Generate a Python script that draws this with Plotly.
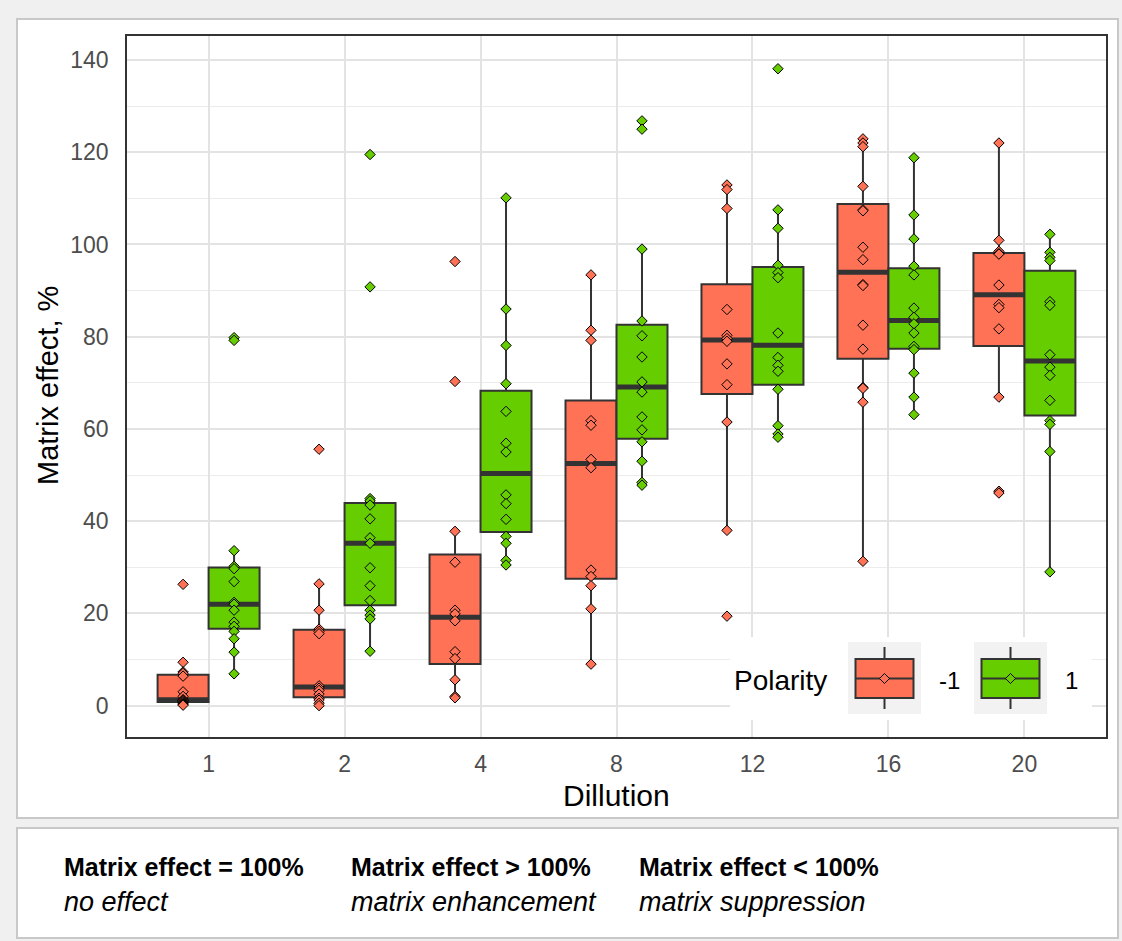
import numpy as np
import plotly.graph_objects as go

# Dilution levels (category labels on the x axis)
dilution = ["1", "2", "4", "8", "12", "16", "20"]

# Matrix effect, % for polarity -1
neg_d1 = [26.3, 9.4, 7.3, 7.0, 6.4, 3.0, 2.0, 1.3, 1.2, 1.1, 0.9, 0.7, 0.5, 0.3, 0.1]
neg_d2 = [55.6, 26.4, 20.7, 16.6, 16.1, 15.6, 4.3, 3.8, 3.3, 2.5, 1.6, 1.2, 0.5, 0.0]
neg_d4 = [96.3, 70.3, 37.8, 31.1, 20.7, 19.9, 18.4, 11.7, 10.2, 5.6, 2.0, 1.7]
neg_d8 = [93.4, 81.4, 79.2, 61.8, 60.8, 53.4, 51.6, 29.4, 28.0, 26.0, 21.0, 9.0]
neg_d12 = [112.9, 111.9, 107.8, 85.9, 80.3, 79.6, 79.0, 74.1, 69.6, 61.5, 38.0, 19.4]
neg_d16 = [122.9, 122.0, 121.2, 112.6, 107.5, 107.3, 99.4, 96.7, 91.3, 91.1, 82.5, 77.3,
           69.0, 68.8, 65.8, 31.3]
neg_d20 = [122.0, 100.9, 98.5, 98.0, 97.9, 91.2, 87.0, 86.3, 81.7, 66.9, 46.5, 46.1]

# Matrix effect, % for polarity 1
pos_d1 = [79.8, 79.2, 33.6, 30.2, 29.7, 26.9, 22.4, 22.0, 20.7, 18.1, 17.2, 16.1, 14.5, 11.6, 6.9]
pos_d2 = [119.5, 90.8, 44.9, 44.4, 43.5, 40.5, 36.4, 35.2, 29.9, 26.0, 22.8, 20.7, 19.6, 18.8, 11.8]
pos_d4 = [110.1, 86.0, 78.1, 69.8, 63.8, 56.9, 55.0, 45.7, 43.8, 40.4, 36.7, 35.2, 31.5, 30.5]
pos_d8 = [126.8, 125.0, 99.0, 83.4, 80.2, 75.6, 70.2, 68.0, 62.6, 59.8, 57.2, 53.0, 48.4, 47.8]
pos_d12 = [138.1, 107.5, 103.5, 95.5, 93.9, 92.8, 80.8, 75.5, 73.8, 72.5, 68.6, 60.7, 58.9, 58.2]
pos_d16 = [118.8, 106.4, 101.2, 95.3, 93.4, 86.2, 84.2, 82.8, 80.8, 77.9, 77.2, 72.1, 66.9, 63.1]
pos_d20 = [102.2, 98.3, 97.2, 96.5, 87.6, 86.8, 76.1, 73.4, 71.6, 66.2, 61.8, 61.0, 55.1, 29.0]

neg_groups = [neg_d1, neg_d2, neg_d4, neg_d8, neg_d12, neg_d16, neg_d20]
pos_groups = [pos_d1, pos_d2, pos_d4, pos_d8, pos_d12, pos_d16, pos_d20]

polarities = [
    ("-1", neg_groups, "#FF7256", -0.1875),
    ("1", pos_groups, "#66CD00", 0.1875),
]

BOX_W = 0.375
EDGE = "#333333"

W, H = 1122, 941
L, R, T, B = 127, 16, 36, 204
PW, PH = W - L - R, H - T - B


def px(x):
    return (x - L) / PW


def py(y):
    return (H - B - y) / PH


def tukey(values):
    v = np.sort(np.asarray(values, dtype=float))
    q1, med, q3 = np.percentile(v, [25, 50, 75])
    iqr = q3 - q1
    lo = v[v >= q1 - 1.5 * iqr].min()
    hi = v[v <= q3 + 1.5 * iqr].max()
    return q1, med, q3, lo, hi


fig = go.Figure()

point_traces = []
median_traces = []
for name, groups, color, offset in polarities:
    xs, q1s, meds, q3s, los, his = [], [], [], [], [], []
    mx, my, px_, py_ = [], [], [], []
    for i, vals in enumerate(groups):
        pos = i + 1 + offset
        q1, med, q3, lo, hi = tukey(vals)
        xs.append(pos)
        q1s.append(q1); meds.append(med); q3s.append(q3); los.append(lo); his.append(hi)
        mx += [pos - BOX_W / 2, pos + BOX_W / 2, None]
        my += [med, med, None]
        px_ += [pos] * len(vals)
        py_ += list(vals)
    fig.add_trace(go.Box(
        x=xs, q1=q1s, median=meds, q3=q3s, lowerfence=los, upperfence=his,
        width=BOX_W, fillcolor=color, line=dict(color=EDGE, width=2),
        whiskerwidth=0, boxpoints=False, name=name, showlegend=False,
        hoverinfo="skip",
    ))
    median_traces.append(go.Scatter(
        x=mx, y=my, mode="lines", line=dict(color=EDGE, width=5),
        showlegend=False, hoverinfo="skip",
    ))
    point_traces.append(go.Scatter(
        x=px_, y=py_, mode="markers", name=name, showlegend=False,
        marker=dict(symbol="diamond", size=8, color=color,
                    line=dict(color="black", width=1)),
    ))

for tr in median_traces + point_traces:
    fig.add_trace(tr)

shapes = []
# background panels
shapes.append(dict(type="rect", xref="paper", yref="paper", layer="below",
                   x0=px(17), x1=px(1118), y0=py(19), y1=py(818),
                   fillcolor="white", line=dict(color="#C8C8C8", width=2)))
shapes.append(dict(type="rect", xref="paper", yref="paper", layer="below",
                   x0=px(17), x1=px(1118), y0=py(828), y1=py(938),
                   fillcolor="white", line=dict(color="#C8C8C8", width=2)))

# legend block drawn inside the panel
shapes.append(dict(type="rect", xref="paper", yref="paper", layer="above",
                   x0=px(730), x1=px(1092), y0=py(637), y1=py(720),
                   fillcolor="white", line=dict(width=0)))
annotations = []
for k, (name, _, color, _) in enumerate(polarities):
    dx = 126 * k
    kx0, kx1 = 848 + dx, 921 + dx
    cx = (kx0 + kx1) / 2
    shapes.append(dict(type="rect", xref="paper", yref="paper", layer="above",
                       x0=px(kx0), x1=px(kx1), y0=py(642), y1=py(714),
                       fillcolor="#F2F2F2", line=dict(width=0)))
    shapes.append(dict(type="line", xref="paper", yref="paper", layer="above",
                       x0=px(cx), x1=px(cx), y0=py(647), y1=py(709),
                       line=dict(color=EDGE, width=2)))
    shapes.append(dict(type="rect", xref="paper", yref="paper", layer="above",
                       x0=px(cx - 29), x1=px(cx + 29), y0=py(659), y1=py(698),
                       fillcolor=color, line=dict(color=EDGE, width=2)))
    shapes.append(dict(type="line", xref="paper", yref="paper", layer="above",
                       x0=px(cx - 29), x1=px(cx + 29), y0=py(678.5), y1=py(678.5),
                       line=dict(color=EDGE, width=2)))
    d = 5
    path = (f"M {px(cx)},{py(678.5 - d)} L {px(cx + d)},{py(678.5)} "
            f"L {px(cx)},{py(678.5 + d)} L {px(cx - d)},{py(678.5)} Z")
    shapes.append(dict(type="path", xref="paper", yref="paper", layer="above",
                       path=path, fillcolor=color, line=dict(color="black", width=1)))
    annotations.append(dict(xref="paper", yref="paper", x=px(kx1 + 16), y=py(680),
                            xanchor="left", yanchor="middle", showarrow=False,
                            text=name, font=dict(size=24, color="black")))

annotations.append(dict(xref="paper", yref="paper", x=px(732), y=py(680),
                        xanchor="left", yanchor="middle", showarrow=False,
                        text="Polarity", font=dict(size=28, color="black")))

# axis titles
annotations.append(dict(xref="paper", yref="paper", x=px(616.5), y=py(795),
                        xanchor="center", yanchor="middle", showarrow=False,
                        text="Dillution", font=dict(size=30, color="black")))
annotations.append(dict(xref="paper", yref="paper", x=px(48), y=py(386),
                        xanchor="center", yanchor="middle", showarrow=False,
                        textangle=-90, text="Matrix effect, %",
                        font=dict(size=29, color="black")))

# explanatory notes under the chart
notes = [
    (62, "Matrix effect = 100%", "no effect"),
    (349, "Matrix effect > 100%", "matrix enhancement"),
    (637, "Matrix effect < 100%", "matrix suppression"),
]
note_font = "Liberation Sans, Arial, sans-serif"
for x0, head, sub in notes:
    annotations.append(dict(xref="paper", yref="paper", x=px(x0), y=py(867),
                            xanchor="left", yanchor="middle", showarrow=False,
                            text=f"<b>{head}</b>",
                            font=dict(size=25, color="black", family=note_font)))
    annotations.append(dict(xref="paper", yref="paper", x=px(x0), y=py(902),
                            xanchor="left", yanchor="middle", showarrow=False,
                            text=f"<i>{sub}</i>",
                            font=dict(size=27, color="black", family=note_font)))

fig.update_layout(
    width=W, height=H,
    margin=dict(l=L, r=R, t=T, b=B, pad=0),
    paper_bgcolor="#F0F0F0",
    plot_bgcolor="white",
    boxmode="overlay",
    showlegend=False,
    font=dict(family="Liberation Sans, Arial, sans-serif", color="#4D4D4D"),
    shapes=shapes,
    annotations=annotations,
    xaxis=dict(
        range=[0.4, 7.6], tickmode="array",
        tickvals=list(range(1, len(dilution) + 1)), ticktext=dilution,
        showgrid=True, gridcolor="#E3E3E3", gridwidth=2,
        showline=True, mirror=True, linecolor=EDGE, linewidth=1.6,
        zeroline=False, ticks="", tickfont=dict(size=23, color="#4D4D4D"),
        ticklabelstandoff=6,
    ),
    yaxis=dict(
        range=[-6.8, 145.2], tick0=0, dtick=20,
        showgrid=True, gridcolor="#E3E3E3", gridwidth=2,
        minor=dict(dtick=10, showgrid=True, gridcolor="#ECECEC", gridwidth=1.2),
        showline=True, mirror=True, linecolor=EDGE, linewidth=1.6,
        zeroline=False, ticks="", tickfont=dict(size=23, color="#4D4D4D"),
        ticklabelstandoff=12,
    ),
)

fig.write_html("out.html")
